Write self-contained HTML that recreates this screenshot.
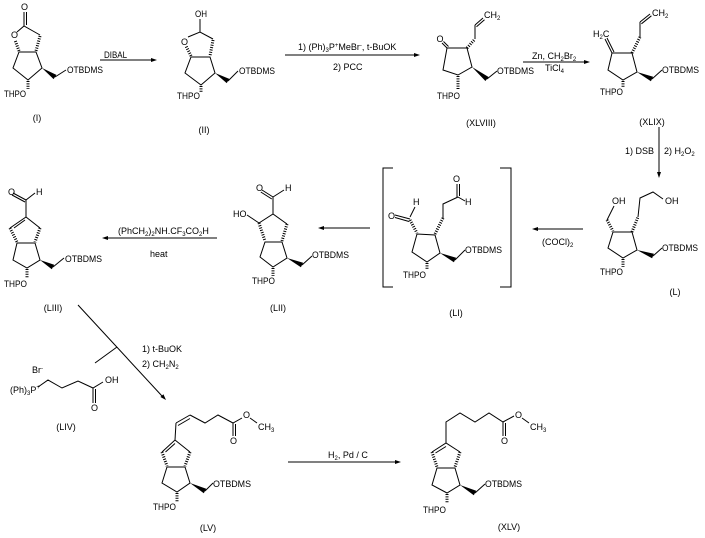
<!DOCTYPE html>
<html><head><meta charset="utf-8"><style>
html,body{margin:0;padding:0;background:#fff;}
svg{display:block;}
text{font-family:"Liberation Sans",sans-serif;font-size:9px;fill:#000;}
.l{stroke:#000;stroke-width:1;fill:none;}
.h{stroke:#000;stroke-width:3;stroke-dasharray:1 1.4;fill:none;}
.f{fill:#000;stroke:none;}
.s{font-size:6px;}
</style></head><body>
<svg width="705" height="538" viewBox="0 0 705 538" xmlns="http://www.w3.org/2000/svg">

<!-- (I) -->
<text x="24.5" y="10" text-anchor="middle">O</text>
<line class="l" x1="24" y1="12" x2="24" y2="26"/><line class="l" x1="26.5" y1="12" x2="26.5" y2="25"/>
<text x="14.5" y="38" text-anchor="middle">O</text>
<polyline class="l" points="17,32 24,26 40,35"/>
<line class="h" x1="40" y1="36" x2="36" y2="51"/>
<line class="h" x1="19" y1="51" x2="15" y2="40"/>
<polygon class="l" points="19,52 36,52 42,68 28,80 13,68"/>
<polygon class="f" points="42,68 53.6,79.1 56.4,74.9"/>
<line class="l" x1="55" y1="77" x2="66" y2="70"/>
<text x="67" y="73" textLength="36" lengthAdjust="spacingAndGlyphs">OTBDMS</text>
<line class="h" x1="28" y1="81" x2="28" y2="89"/>
<text x="4" y="97" textLength="22" lengthAdjust="spacingAndGlyphs">THPO</text>
<text x="37" y="121" text-anchor="middle">(I)</text>

<!-- DIBAL arrow -->
<line class="l" x1="100" y1="60" x2="151" y2="60"/><polygon class="f" points="151,58 157,60 151,62"/>
<text x="104" y="58" textLength="23" lengthAdjust="spacingAndGlyphs">DIBAL</text>

<!-- (II) -->
<text x="195" y="17" textLength="12" lengthAdjust="spacingAndGlyphs">OH</text>
<line class="l" x1="200" y1="19" x2="200" y2="32"/>
<text x="184.5" y="45" text-anchor="middle">O</text>
<polyline class="l" points="188,37 200,32 213,39"/>
<line class="h" x1="213" y1="40" x2="210" y2="56"/>
<line class="h" x1="191" y1="56" x2="186" y2="46"/>
<polygon class="l" points="191,57 210,57 215,73 201,85 185,73"/>
<polygon class="f" points="215,73 226.7,83.1 229.3,78.9"/>
<line class="l" x1="228" y1="81" x2="238" y2="71"/>
<text x="239" y="74" textLength="36" lengthAdjust="spacingAndGlyphs">OTBDMS</text>
<line class="h" x1="201" y1="86" x2="201" y2="92"/>
<text x="177" y="99" textLength="23" lengthAdjust="spacingAndGlyphs">THPO</text>
<text x="204" y="133" text-anchor="middle">(II)</text>

<!-- arrow 1 -->
<line class="l" x1="285" y1="55" x2="414" y2="55"/><polygon class="f" points="414,53 420,55 414,57"/>
<text x="298" y="50">1) (Ph)<tspan class="s" dy="2">3</tspan><tspan dy="-2">P</tspan><tspan class="s" dy="-3">+</tspan><tspan dy="3">MeBr</tspan><tspan class="s" dy="-3">-</tspan><tspan dy="3">, t-BuOK</tspan></text>
<text x="333" y="70">2) PCC</text>

<!-- (XLVIII) -->
<text x="440" y="42" text-anchor="middle">O</text>
<line class="l" x1="447" y1="48" x2="442" y2="43"/><line class="l" x1="448.5" y1="46.5" x2="443.5" y2="41.5"/>
<polygon class="l" points="447,48 467,48 472,67 458,75 443,70"/>
<line class="h" x1="467" y1="48" x2="475" y2="39"/>
<line class="l" x1="475" y1="39" x2="475" y2="25"/>
<line class="l" x1="475" y1="25" x2="483" y2="18"/><line class="l" x1="476.5" y1="26.7" x2="484.5" y2="19.7"/>
<text x="484" y="18">CH<tspan class="s" dy="2">2</tspan></text>
<polygon class="f" points="472,67 485.4,81 488.6,77"/>
<line class="l" x1="487" y1="79" x2="497" y2="71"/>
<text x="497" y="74" textLength="37" lengthAdjust="spacingAndGlyphs">OTBDMS</text>
<line class="h" x1="458" y1="76" x2="458" y2="89"/>
<text x="437" y="99" textLength="23" lengthAdjust="spacingAndGlyphs">THPO</text>
<text x="481" y="126" text-anchor="middle">(XLVIII)</text>

<!-- Zn arrow -->
<line class="l" x1="523" y1="62" x2="584" y2="62"/><polygon class="f" points="584,60 590,62 584,64"/>
<text x="532" y="59">Zn, CH<tspan class="s" dy="2">2</tspan><tspan dy="-2">Br</tspan><tspan class="s" dy="2">2</tspan></text>
<text x="545" y="71">TiCl<tspan class="s" dy="2">4</tspan></text>

<!-- (XLIX) -->
<text x="593" y="37">H<tspan class="s" dy="2">2</tspan><tspan dy="-2">C</tspan></text>
<line class="l" x1="612" y1="53" x2="605" y2="39"/><line class="l" x1="614" y1="52" x2="607" y2="38"/>
<polygon class="l" points="612,53 632,53 637,72 623,80 608,70"/>
<line class="h" x1="632" y1="53" x2="640" y2="37"/>
<line class="l" x1="640" y1="37" x2="640" y2="22"/>
<line class="l" x1="640" y1="22" x2="650" y2="14"/><line class="l" x1="641.4" y1="23.8" x2="651.4" y2="15.8"/>
<text x="652" y="16">CH<tspan class="s" dy="2">2</tspan></text>
<polygon class="f" points="637,72 650.9,81.3 653.1,76.7"/>
<line class="l" x1="652" y1="79" x2="662" y2="70"/>
<text x="662" y="73" textLength="37" lengthAdjust="spacingAndGlyphs">OTBDMS</text>
<line class="h" x1="623" y1="81" x2="623" y2="87"/>
<text x="600" y="95" textLength="23" lengthAdjust="spacingAndGlyphs">THPO</text>
<text x="652" y="125" text-anchor="middle">(XLIX)</text>

<!-- vertical arrow -->
<line class="l" x1="659" y1="127" x2="659" y2="172"/><polygon class="f" points="657,172 659,178 661,172"/>
<text x="625" y="154">1) DSB</text>
<text x="664" y="154">2) H<tspan class="s" dy="2">2</tspan><tspan dy="-2">O</tspan><tspan class="s" dy="2">2</tspan></text>

<!-- (L) -->
<text x="612" y="204">OH</text>
<text x="665" y="204">OH</text>
<line class="l" x1="614" y1="206" x2="607" y2="220"/>
<line class="h" x1="607" y1="220" x2="613" y2="231"/>
<polygon class="l" points="613,232 632,232 637,250 623,258 608,248"/>
<line class="h" x1="632" y1="232" x2="638" y2="217"/>
<polyline class="l" points="638,217 640,198 653,192 663,199"/>
<polygon class="f" points="637,250 652.1,258.3 653.9,253.7"/>
<line class="l" x1="653" y1="256" x2="662" y2="248"/>
<text x="662" y="251" textLength="36" lengthAdjust="spacingAndGlyphs">OTBDMS</text>
<line class="h" x1="623" y1="259" x2="623" y2="267"/>
<text x="600" y="275" textLength="23" lengthAdjust="spacingAndGlyphs">THPO</text>
<text x="675" y="295" text-anchor="middle">(L)</text>

<!-- (COCl)2 arrow -->
<line class="l" x1="538" y1="229" x2="583" y2="229"/><polygon class="f" points="538,227 532,229 538,231"/>
<text x="542" y="245">(COCl)<tspan class="s" dy="2">2</tspan></text>

<!-- (LI) -->
<polyline class="l" points="393,168 383,168 383,287 393,287"/>
<polyline class="l" points="500,168 511,168 511,287 500,287"/>
<text x="456.5" y="182" text-anchor="middle">O</text>
<line class="l" x1="457" y1="184" x2="457" y2="197"/><line class="l" x1="459.5" y1="184" x2="459.5" y2="196"/>
<line class="l" x1="458" y1="197" x2="465" y2="201"/>
<text x="465" y="205">H</text>
<polyline class="l" points="458,197 443,204 443,218"/>
<line class="h" x1="443" y1="218" x2="435" y2="234"/>
<text x="388" y="219">O</text>
<line class="l" x1="395" y1="215" x2="410" y2="219"/><line class="l" x1="395" y1="217.5" x2="409" y2="221.5"/>
<line class="l" x1="410" y1="217" x2="415" y2="207"/>
<text x="413" y="205">H</text>
<line class="h" x1="410" y1="220" x2="417" y2="233"/>
<polygon class="l" points="417,234 435,235 440,253 427,262 412,252"/>
<polygon class="f" points="440,253 453.9,262.3 456.1,257.7"/>
<line class="l" x1="455" y1="260" x2="465" y2="250"/>
<text x="465" y="253" textLength="37" lengthAdjust="spacingAndGlyphs">OTBDMS</text>
<line class="h" x1="427" y1="263" x2="427" y2="270"/>
<text x="403" y="278" textLength="23" lengthAdjust="spacingAndGlyphs">THPO</text>
<text x="456" y="316" text-anchor="middle">(LI)</text>

<!-- LI -> LII arrow -->
<line class="l" x1="324" y1="228" x2="370" y2="228"/><polygon class="f" points="324,226 318,228 324,230"/>

<!-- (LII) -->
<text x="256" y="191">O</text>
<text x="285" y="191">H</text>
<line class="l" x1="262" y1="190" x2="273" y2="197"/><line class="l" x1="260.8" y1="192" x2="271.8" y2="199"/>
<line class="l" x1="273" y1="197" x2="284" y2="190"/>
<line class="l" x1="273" y1="197" x2="273" y2="214"/>
<polyline class="l" points="259,223 273,214 287,224"/>
<line class="h" x1="287" y1="224" x2="282" y2="241"/>
<line class="h" x1="259" y1="223" x2="265" y2="241"/>
<text x="233" y="217">HO</text>
<line class="l" x1="247" y1="215" x2="259" y2="223"/>
<polygon class="l" points="265,242 282,242 287,258 273,267 260,257"/>
<polygon class="f" points="287,258 300.9,267.3 303.1,262.7"/>
<line class="l" x1="302" y1="265" x2="312" y2="256"/>
<text x="312" y="258" textLength="37" lengthAdjust="spacingAndGlyphs">OTBDMS</text>
<line class="h" x1="273" y1="268" x2="273" y2="276"/>
<text x="252" y="284" textLength="23" lengthAdjust="spacingAndGlyphs">THPO</text>
<text x="278" y="311" text-anchor="middle">(LII)</text>

<!-- LII -> LIII arrow -->
<line class="l" x1="108" y1="238" x2="217" y2="238"/><polygon class="f" points="108,236 102,238 108,240"/>
<text x="118" y="234">(PhCH<tspan class="s" dy="2">2</tspan><tspan dy="-2">)</tspan><tspan class="s" dy="2">2</tspan><tspan dy="-2">NH.CF</tspan><tspan class="s" dy="2">3</tspan><tspan dy="-2">CO</tspan><tspan class="s" dy="2">2</tspan><tspan dy="-2">H</tspan></text>
<text x="150" y="257">heat</text>

<!-- (LIII) -->
<text x="8" y="195">O</text>
<text x="36" y="195">H</text>
<line class="l" x1="13" y1="193" x2="26" y2="200"/><line class="l" x1="12" y1="195" x2="25" y2="202"/>
<line class="l" x1="26" y1="200" x2="35" y2="193"/>
<line class="l" x1="26" y1="200" x2="26" y2="217"/>
<polyline class="l" points="10,228 26,217 40,228"/>
<line class="l" x1="25" y1="220" x2="14" y2="228"/>
<line class="h" x1="10" y1="228" x2="17" y2="242"/>
<line class="h" x1="40" y1="228" x2="35" y2="242"/>
<polygon class="l" points="17,243 35,243 40,260 27,268 13,260"/>
<polygon class="f" points="40,260 51.8,269.2 54.2,264.8"/>
<line class="l" x1="53" y1="267" x2="64" y2="258"/>
<text x="65" y="262" textLength="37" lengthAdjust="spacingAndGlyphs">OTBDMS</text>
<line class="h" x1="27" y1="269" x2="27" y2="278"/>
<text x="4" y="287" textLength="23" lengthAdjust="spacingAndGlyphs">THPO</text>
<text x="53" y="311" text-anchor="middle">(LIII)</text>

<!-- diagonal arrow -->
<line class="l" x1="78" y1="305" x2="162" y2="396"/>
<polygon class="f" points="160.4,397 163.4,394.2 166,400"/>
<line class="l" x1="95" y1="363" x2="117" y2="347"/>
<text x="142" y="352">1) t-BuOK</text>
<text x="142" y="367">2) CH<tspan class="s" dy="2">2</tspan><tspan dy="-2">N</tspan><tspan class="s" dy="2">2</tspan></text>

<!-- (LIV) -->
<text x="32" y="373">Br<tspan class="s" dy="-3">-</tspan></text>
<text x="10" y="393">(Ph)<tspan class="s" dy="2">3</tspan><tspan dy="-2">P</tspan><tspan class="s" dy="-4">+</tspan></text>
<polyline class="l" points="38,387 48,380 62,388 78,381 93,388 103,382"/>
<text x="105" y="383">OH</text>
<line class="l" x1="93" y1="388" x2="93" y2="403"/><line class="l" x1="95.5" y1="389" x2="95.5" y2="403"/>
<text x="91" y="411">O</text>
<text x="66" y="430" text-anchor="middle">(LIV)</text>

<!-- (LV) -->
<line class="l" x1="175" y1="440" x2="176" y2="423"/>
<line class="l" x1="176" y1="423" x2="190" y2="415"/><line class="l" x1="178" y1="425.5" x2="190" y2="418.5"/>
<polyline class="l" points="190,415 205,423 218,415 233,423 242,418"/>
<line class="l" x1="233" y1="423" x2="233" y2="436"/><line class="l" x1="235.5" y1="424" x2="235.5" y2="436"/>
<text x="230" y="444">O</text>
<text x="243" y="418">O</text>
<line class="l" x1="250" y1="418" x2="257" y2="423"/>
<text x="258" y="430">CH<tspan class="s" dy="2">3</tspan></text>
<polyline class="l" points="162,452 175,440 190,452"/>
<line class="l" x1="175" y1="443.5" x2="165.5" y2="452"/>
<line class="h" x1="162" y1="452" x2="167" y2="466"/>
<line class="h" x1="190" y1="452" x2="185" y2="466"/>
<polygon class="l" points="167,467 185,467 190,483 177,492 162,483"/>
<polygon class="f" points="190,483 203.8,493.2 206.2,488.8"/>
<line class="l" x1="205" y1="491" x2="213" y2="483"/>
<text x="213" y="487" textLength="38" lengthAdjust="spacingAndGlyphs">OTBDMS</text>
<line class="h" x1="177" y1="493" x2="177" y2="502"/>
<text x="153" y="510" textLength="23" lengthAdjust="spacingAndGlyphs">THPO</text>
<text x="208" y="531" text-anchor="middle">(LV)</text>

<!-- H2 arrow -->
<line class="l" x1="288" y1="462" x2="395" y2="462"/><polygon class="f" points="395,460 401,462 395,464"/>
<text x="328" y="458">H<tspan class="s" dy="2">2</tspan><tspan dy="-2">, Pd / C</tspan></text>

<!-- (XLV) -->
<polyline class="l" points="446,443 446,422 460,413 475,422 489,413 503,422 514,416"/>
<line class="l" x1="503" y1="422" x2="503" y2="436"/><line class="l" x1="505.5" y1="423" x2="505.5" y2="436"/>
<text x="501" y="444">O</text>
<text x="515" y="418">O</text>
<line class="l" x1="522" y1="418" x2="529" y2="423"/>
<text x="530" y="430">CH<tspan class="s" dy="2">3</tspan></text>
<polyline class="l" points="432,452 446,443 460,452"/>
<line class="l" x1="446" y1="446.5" x2="435.5" y2="453"/>
<line class="h" x1="432" y1="452" x2="437" y2="467"/>
<line class="h" x1="460" y1="452" x2="455" y2="467"/>
<polygon class="l" points="437,468 455,468 460,485 447,493 432,485"/>
<polygon class="f" points="460,485 473.8,495.2 476.2,490.8"/>
<line class="l" x1="475" y1="493" x2="485" y2="484"/>
<text x="485" y="487" textLength="37" lengthAdjust="spacingAndGlyphs">OTBDMS</text>
<line class="h" x1="447" y1="494" x2="447" y2="503"/>
<text x="423" y="513" textLength="23" lengthAdjust="spacingAndGlyphs">THPO</text>
<text x="509" y="530" text-anchor="middle">(XLV)</text>

</svg>
</body></html>
